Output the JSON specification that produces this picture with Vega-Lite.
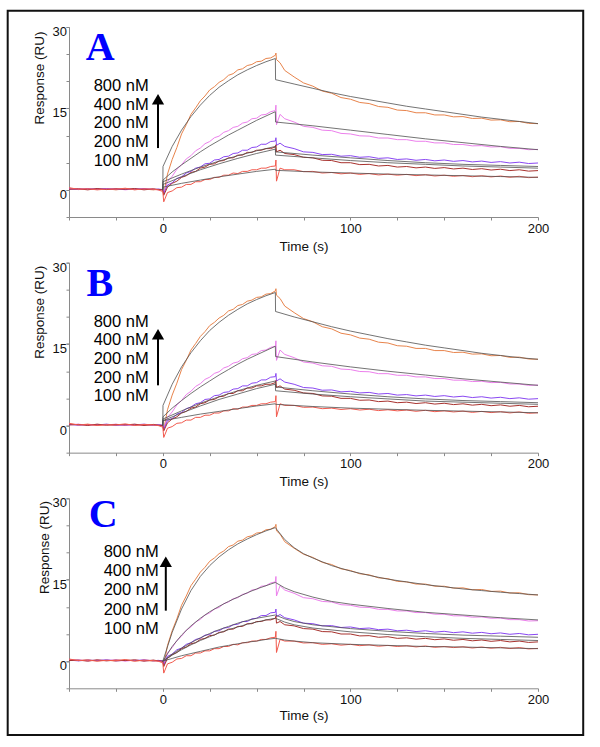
{
"$schema": "https://vega.github.io/schema/vega-lite/v6.json",
"padding": {"left": 6, "top": 9, "right": 5, "bottom": 5},
"bounds": "flush",
"spacing": 45.65,
"config": {
  "font": "Liberation Sans",
  "view": {"stroke": null},
  "axis": {"grid": false, "domainColor": "#8a8a8a", "tickColor": "#8a8a8a", "tickSize": 3, "labelFont": "Liberation Sans", "labelFontSize": 13, "labelColor": "#111", "titleFont": "Liberation Sans", "titleFontSize": 13.5, "titleFontWeight": "normal", "titleColor": "#111", "labelFlush": false, "labelOverlap": false},
  "axisX": {"labelPadding": 2, "titlePadding": 4},
  "axisY": {"labelPadding": -0.5, "labelOffset": 4.5, "titlePadding": 6}
},
"datasets": {
"traces": [
{"c":"800","t":-50,"v":0.3},{"c":"800","t":-45,"v":0.1},{"c":"800","t":-40,"v":0.25},{"c":"800","t":-35,"v":0.05},{"c":"800","t":-30,"v":0.2},{"c":"800","t":-25,"v":0.0},{"c":"800","t":-20,"v":0.2},{"c":"800","t":-15,"v":0.05},{"c":"800","t":-10,"v":0.15},{"c":"800","t":-5,"v":0.0},{"c":"800","t":-2.5,"v":0.1},{"c":"800","t":0,"v":0.0},{"c":"800","t":0.5,"v":-0.8},{"c":"800","t":2.5,"v":2.9},{"c":"800","t":5,"v":5.6},{"c":"800","t":7.5,"v":7.8},{"c":"800","t":10,"v":10.3},{"c":"800","t":12.5,"v":12.0},{"c":"800","t":15,"v":13.9},{"c":"800","t":17.5,"v":15.1},{"c":"800","t":20,"v":16.4},{"c":"800","t":22.5,"v":17.3},{"c":"800","t":25,"v":18.4},{"c":"800","t":27.5,"v":19.0},{"c":"800","t":30,"v":19.8},{"c":"800","t":32.5,"v":20.3},{"c":"800","t":35,"v":21.1},{"c":"800","t":37.5,"v":21.4},{"c":"800","t":40,"v":22.1},{"c":"800","t":42.5,"v":22.3},{"c":"800","t":45,"v":22.9},{"c":"800","t":47.5,"v":23.1},{"c":"800","t":50,"v":23.6},{"c":"800","t":52.5,"v":23.7},{"c":"800","t":55,"v":24.2},{"c":"800","t":57.5,"v":24.3},{"c":"800","t":60,"v":24.8},{"c":"800","t":60.3,"v":25.2},{"c":"800","t":60.6,"v":24.0},{"c":"800","t":62.5,"v":23.4},{"c":"800","t":65,"v":22.0},{"c":"800","t":70,"v":20.8},{"c":"800","t":75,"v":19.7},{"c":"800","t":80,"v":19.1},{"c":"800","t":85,"v":18.2},{"c":"800","t":90,"v":17.8},{"c":"800","t":95,"v":17.0},{"c":"800","t":100,"v":16.7},{"c":"800","t":105,"v":16.1},{"c":"800","t":110,"v":15.9},{"c":"800","t":115,"v":15.35},{"c":"800","t":120,"v":15.2},{"c":"800","t":125,"v":14.7},{"c":"800","t":130,"v":14.6},{"c":"800","t":135,"v":14.2},{"c":"800","t":140,"v":14.2},{"c":"800","t":145,"v":13.8},{"c":"800","t":150,"v":13.8},{"c":"800","t":155,"v":13.45},{"c":"800","t":160,"v":13.5},{"c":"800","t":165,"v":13.15},{"c":"800","t":170,"v":13.2},{"c":"800","t":175,"v":12.85},{"c":"800","t":180,"v":12.9},{"c":"800","t":185,"v":12.55},{"c":"800","t":190,"v":12.6},{"c":"800","t":195,"v":12.25},{"c":"800","t":200,"v":12.2},
{"c":"400","t":-50,"v":0.15},{"c":"400","t":-45,"v":0.25},{"c":"400","t":-40,"v":0.05},{"c":"400","t":-35,"v":0.2},{"c":"400","t":-30,"v":0.1},{"c":"400","t":-25,"v":0.25},{"c":"400","t":-20,"v":0.0},{"c":"400","t":-15,"v":0.2},{"c":"400","t":-10,"v":0.05},{"c":"400","t":-5,"v":0.15},{"c":"400","t":-2.5,"v":0.0},{"c":"400","t":0,"v":0.1},{"c":"400","t":0.5,"v":-0.6},{"c":"400","t":2.5,"v":1.5},{"c":"400","t":5,"v":2.5},{"c":"400","t":7.5,"v":3.8},{"c":"400","t":10,"v":4.6},{"c":"400","t":12.5,"v":5.7},{"c":"400","t":15,"v":6.3},{"c":"400","t":17.5,"v":7.2},{"c":"400","t":20,"v":7.7},{"c":"400","t":22.5,"v":8.5},{"c":"400","t":25,"v":8.9},{"c":"400","t":27.5,"v":9.6},{"c":"400","t":30,"v":9.9},{"c":"400","t":32.5,"v":10.6},{"c":"400","t":35,"v":10.9},{"c":"400","t":37.5,"v":11.5},{"c":"400","t":40,"v":11.7},{"c":"400","t":42.5,"v":12.3},{"c":"400","t":45,"v":12.5},{"c":"400","t":47.5,"v":13.1},{"c":"400","t":50,"v":13.2},{"c":"400","t":52.5,"v":13.8},{"c":"400","t":55,"v":13.9},{"c":"400","t":57.5,"v":14.4},{"c":"400","t":60,"v":14.6},{"c":"400","t":60.3,"v":15.6},{"c":"400","t":60.6,"v":12.0},{"c":"400","t":62.5,"v":13.9},{"c":"400","t":65,"v":13.1},{"c":"400","t":70,"v":12.5},{"c":"400","t":75,"v":11.7},{"c":"400","t":80,"v":11.5},{"c":"400","t":85,"v":11.0},{"c":"400","t":90,"v":10.9},{"c":"400","t":95,"v":10.4},{"c":"400","t":100,"v":10.3},{"c":"400","t":105,"v":9.95},{"c":"400","t":110,"v":9.9},{"c":"400","t":115,"v":9.55},{"c":"400","t":120,"v":9.55},{"c":"400","t":125,"v":9.25},{"c":"400","t":130,"v":9.25},{"c":"400","t":135,"v":8.95},{"c":"400","t":140,"v":8.95},{"c":"400","t":145,"v":8.65},{"c":"400","t":150,"v":8.65},{"c":"400","t":155,"v":8.35},{"c":"400","t":160,"v":8.35},{"c":"400","t":165,"v":8.1},{"c":"400","t":170,"v":8.15},{"c":"400","t":175,"v":7.9},{"c":"400","t":180,"v":7.95},{"c":"400","t":185,"v":7.65},{"c":"400","t":190,"v":7.65},{"c":"400","t":195,"v":7.4},{"c":"400","t":200,"v":7.45},
{"c":"200a","t":-50,"v":0.2},{"c":"200a","t":-45,"v":0.05},{"c":"200a","t":-40,"v":0.2},{"c":"200a","t":-35,"v":0.1},{"c":"200a","t":-30,"v":0.25},{"c":"200a","t":-25,"v":0.05},{"c":"200a","t":-20,"v":0.15},{"c":"200a","t":-15,"v":0.1},{"c":"200a","t":-10,"v":0.25},{"c":"200a","t":-5,"v":0.05},{"c":"200a","t":-2.5,"v":0.15},{"c":"200a","t":0,"v":0.05},{"c":"200a","t":0.5,"v":-0.7},{"c":"200a","t":2.5,"v":0.9},{"c":"200a","t":5,"v":1.3},{"c":"200a","t":7.5,"v":2.1},{"c":"200a","t":10,"v":2.4},{"c":"200a","t":12.5,"v":3.1},{"c":"200a","t":15,"v":3.4},{"c":"200a","t":17.5,"v":4.0},{"c":"200a","t":20,"v":4.2},{"c":"200a","t":22.5,"v":4.8},{"c":"200a","t":25,"v":4.9},{"c":"200a","t":27.5,"v":5.5},{"c":"200a","t":30,"v":5.6},{"c":"200a","t":32.5,"v":6.1},{"c":"200a","t":35,"v":6.2},{"c":"200a","t":37.5,"v":6.7},{"c":"200a","t":40,"v":6.8},{"c":"200a","t":42.5,"v":7.3},{"c":"200a","t":45,"v":7.3},{"c":"200a","t":47.5,"v":7.8},{"c":"200a","t":50,"v":7.9},{"c":"200a","t":52.5,"v":8.4},{"c":"200a","t":55,"v":8.4},{"c":"200a","t":57.5,"v":8.9},{"c":"200a","t":60,"v":9.0},{"c":"200a","t":60.3,"v":9.6},{"c":"200a","t":60.6,"v":8.2},{"c":"200a","t":62.5,"v":8.6},{"c":"200a","t":65,"v":8.0},{"c":"200a","t":70,"v":7.6},{"c":"200a","t":75,"v":7.0},{"c":"200a","t":80,"v":6.9},{"c":"200a","t":85,"v":6.5},{"c":"200a","t":90,"v":6.55},{"c":"200a","t":95,"v":6.2},{"c":"200a","t":100,"v":6.3},{"c":"200a","t":105,"v":6.0},{"c":"200a","t":110,"v":6.1},{"c":"200a","t":115,"v":5.8},{"c":"200a","t":120,"v":5.9},{"c":"200a","t":125,"v":5.6},{"c":"200a","t":130,"v":5.7},{"c":"200a","t":135,"v":5.45},{"c":"200a","t":140,"v":5.6},{"c":"200a","t":145,"v":5.35},{"c":"200a","t":150,"v":5.5},{"c":"200a","t":155,"v":5.25},{"c":"200a","t":160,"v":5.4},{"c":"200a","t":165,"v":5.15},{"c":"200a","t":170,"v":5.3},{"c":"200a","t":175,"v":5.05},{"c":"200a","t":180,"v":5.2},{"c":"200a","t":185,"v":4.95},{"c":"200a","t":190,"v":5.1},{"c":"200a","t":195,"v":4.85},{"c":"200a","t":200,"v":4.95},
{"c":"200b","t":-50,"v":0.1},{"c":"200b","t":-45,"v":0.2},{"c":"200b","t":-40,"v":0.0},{"c":"200b","t":-35,"v":0.25},{"c":"200b","t":-30,"v":0.05},{"c":"200b","t":-25,"v":0.2},{"c":"200b","t":-20,"v":0.1},{"c":"200b","t":-15,"v":0.25},{"c":"200b","t":-10,"v":0.0},{"c":"200b","t":-5,"v":0.2},{"c":"200b","t":-2.5,"v":0.05},{"c":"200b","t":0,"v":0.0},{"c":"200b","t":0.5,"v":-1.0},{"c":"200b","t":2.5,"v":0.5},{"c":"200b","t":5,"v":1.2},{"c":"200b","t":7.5,"v":1.6},{"c":"200b","t":10,"v":2.3},{"c":"200b","t":12.5,"v":2.6},{"c":"200b","t":15,"v":3.2},{"c":"200b","t":17.5,"v":3.4},{"c":"200b","t":20,"v":4.0},{"c":"200b","t":22.5,"v":4.2},{"c":"200b","t":25,"v":4.7},{"c":"200b","t":27.5,"v":4.8},{"c":"200b","t":30,"v":5.3},{"c":"200b","t":32.5,"v":5.4},{"c":"200b","t":35,"v":5.9},{"c":"200b","t":37.5,"v":5.9},{"c":"200b","t":40,"v":6.4},{"c":"200b","t":42.5,"v":6.4},{"c":"200b","t":45,"v":6.9},{"c":"200b","t":47.5,"v":6.9},{"c":"200b","t":50,"v":7.3},{"c":"200b","t":52.5,"v":7.3},{"c":"200b","t":55,"v":7.6},{"c":"200b","t":57.5,"v":7.6},{"c":"200b","t":60,"v":7.9},{"c":"200b","t":60.3,"v":8.3},{"c":"200b","t":60.6,"v":7.0},{"c":"200b","t":62.5,"v":7.3},{"c":"200b","t":65,"v":6.7},{"c":"200b","t":70,"v":6.5},{"c":"200b","t":75,"v":6.0},{"c":"200b","t":80,"v":5.9},{"c":"200b","t":85,"v":5.45},{"c":"200b","t":90,"v":5.4},{"c":"200b","t":95,"v":5.0},{"c":"200b","t":100,"v":5.0},{"c":"200b","t":105,"v":4.65},{"c":"200b","t":110,"v":4.7},{"c":"200b","t":115,"v":4.4},{"c":"200b","t":120,"v":4.5},{"c":"200b","t":125,"v":4.2},{"c":"200b","t":130,"v":4.3},{"c":"200b","t":135,"v":4.05},{"c":"200b","t":140,"v":4.2},{"c":"200b","t":145,"v":3.95},{"c":"200b","t":150,"v":4.1},{"c":"200b","t":155,"v":3.85},{"c":"200b","t":160,"v":4.0},{"c":"200b","t":165,"v":3.75},{"c":"200b","t":170,"v":3.9},{"c":"200b","t":175,"v":3.65},{"c":"200b","t":180,"v":3.8},{"c":"200b","t":185,"v":3.55},{"c":"200b","t":190,"v":3.7},{"c":"200b","t":195,"v":3.45},{"c":"200b","t":200,"v":3.55},
{"c":"100","t":-50,"v":0.4},{"c":"100","t":-45,"v":0.1},{"c":"100","t":-40,"v":0.2},{"c":"100","t":-35,"v":0.0},{"c":"100","t":-30,"v":0.15},{"c":"100","t":-25,"v":0.1},{"c":"100","t":-20,"v":0.3},{"c":"100","t":-15,"v":0.0},{"c":"100","t":-10,"v":0.2},{"c":"100","t":-5,"v":0.1},{"c":"100","t":-2.5,"v":0.0},{"c":"100","t":0,"v":-0.3},{"c":"100","t":0.5,"v":-2.2},{"c":"100","t":2.5,"v":-0.5},{"c":"100","t":5,"v":-0.2},{"c":"100","t":7.5,"v":0.4},{"c":"100","t":10,"v":0.5},{"c":"100","t":12.5,"v":1.0},{"c":"100","t":15,"v":1.0},{"c":"100","t":17.5,"v":1.5},{"c":"100","t":20,"v":1.5},{"c":"100","t":22.5,"v":1.9},{"c":"100","t":25,"v":1.9},{"c":"100","t":27.5,"v":2.3},{"c":"100","t":30,"v":2.3},{"c":"100","t":32.5,"v":2.7},{"c":"100","t":35,"v":2.7},{"c":"100","t":37.5,"v":3.1},{"c":"100","t":40,"v":3.0},{"c":"100","t":42.5,"v":3.4},{"c":"100","t":45,"v":3.4},{"c":"100","t":47.5,"v":3.7},{"c":"100","t":50,"v":3.7},{"c":"100","t":52.5,"v":4.0},{"c":"100","t":55,"v":4.0},{"c":"100","t":57.5,"v":4.3},{"c":"100","t":60,"v":4.4},{"c":"100","t":60.3,"v":5.5},{"c":"100","t":60.6,"v":1.6},{"c":"100","t":62.5,"v":4.0},{"c":"100","t":65,"v":3.7},{"c":"100","t":70,"v":3.7},{"c":"100","t":75,"v":3.35},{"c":"100","t":80,"v":3.4},{"c":"100","t":85,"v":3.1},{"c":"100","t":90,"v":3.2},{"c":"100","t":95,"v":2.95},{"c":"100","t":100,"v":3.1},{"c":"100","t":105,"v":2.85},{"c":"100","t":110,"v":3.0},{"c":"100","t":115,"v":2.75},{"c":"100","t":120,"v":2.9},{"c":"100","t":125,"v":2.7},{"c":"100","t":130,"v":2.85},{"c":"100","t":135,"v":2.62},{"c":"100","t":140,"v":2.8},{"c":"100","t":145,"v":2.55},{"c":"100","t":150,"v":2.7},{"c":"100","t":155,"v":2.5},{"c":"100","t":160,"v":2.65},{"c":"100","t":165,"v":2.42},{"c":"100","t":170,"v":2.6},{"c":"100","t":175,"v":2.38},{"c":"100","t":180,"v":2.55},{"c":"100","t":185,"v":2.32},{"c":"100","t":190,"v":2.5},{"c":"100","t":195,"v":2.25},{"c":"100","t":200,"v":2.35}
],
"fits": [
{"p":"A","c":"800","t":0,"v":0},{"p":"A","c":"800","t":0.1,"v":4.3},{"p":"A","c":"800","t":5,"v":8.0},{"p":"A","c":"800","t":10,"v":11.0},{"p":"A","c":"800","t":15,"v":13.5},{"p":"A","c":"800","t":20,"v":15.6},{"p":"A","c":"800","t":25,"v":17.4},{"p":"A","c":"800","t":30,"v":18.9},{"p":"A","c":"800","t":35,"v":20.1},{"p":"A","c":"800","t":40,"v":21.2},{"p":"A","c":"800","t":45,"v":22.1},{"p":"A","c":"800","t":50,"v":22.9},{"p":"A","c":"800","t":55,"v":23.6},{"p":"A","c":"800","t":60,"v":24.2},{"p":"A","c":"800","t":60.1,"v":20.3},{"p":"A","c":"800","t":70,"v":19.5},{"p":"A","c":"800","t":80,"v":18.7},{"p":"A","c":"800","t":90,"v":17.9},{"p":"A","c":"800","t":100,"v":17.2},{"p":"A","c":"800","t":110,"v":16.6},{"p":"A","c":"800","t":120,"v":16.0},{"p":"A","c":"800","t":130,"v":15.4},{"p":"A","c":"800","t":140,"v":14.9},{"p":"A","c":"800","t":150,"v":14.4},{"p":"A","c":"800","t":160,"v":13.9},{"p":"A","c":"800","t":170,"v":13.4},{"p":"A","c":"800","t":180,"v":13.0},{"p":"A","c":"800","t":190,"v":12.6},{"p":"A","c":"800","t":200,"v":12.2},
{"p":"A","c":"400","t":0,"v":0},{"p":"A","c":"400","t":0.1,"v":1.8},{"p":"A","c":"400","t":5,"v":3.3},{"p":"A","c":"400","t":10,"v":4.6},{"p":"A","c":"400","t":15,"v":5.8},{"p":"A","c":"400","t":20,"v":7.0},{"p":"A","c":"400","t":25,"v":8.1},{"p":"A","c":"400","t":30,"v":9.1},{"p":"A","c":"400","t":35,"v":10.1},{"p":"A","c":"400","t":40,"v":11.0},{"p":"A","c":"400","t":45,"v":11.9},{"p":"A","c":"400","t":50,"v":12.8},{"p":"A","c":"400","t":55,"v":13.6},{"p":"A","c":"400","t":60,"v":14.4},{"p":"A","c":"400","t":60.1,"v":12.5},{"p":"A","c":"400","t":80,"v":11.8},{"p":"A","c":"400","t":100,"v":11.0},{"p":"A","c":"400","t":120,"v":10.2},{"p":"A","c":"400","t":140,"v":9.4},{"p":"A","c":"400","t":160,"v":8.7},{"p":"A","c":"400","t":180,"v":8.0},{"p":"A","c":"400","t":200,"v":7.4},
{"p":"A","c":"200a","t":0,"v":0},{"p":"A","c":"200a","t":0.1,"v":1.5},{"p":"A","c":"200a","t":10,"v":2.9},{"p":"A","c":"200a","t":20,"v":4.2},{"p":"A","c":"200a","t":30,"v":5.3},{"p":"A","c":"200a","t":40,"v":6.3},{"p":"A","c":"200a","t":50,"v":7.2},{"p":"A","c":"200a","t":60,"v":8.0},{"p":"A","c":"200a","t":60.1,"v":7.0},{"p":"A","c":"200a","t":80,"v":6.4},{"p":"A","c":"200a","t":100,"v":5.9},{"p":"A","c":"200a","t":120,"v":5.4},{"p":"A","c":"200a","t":140,"v":5.0},{"p":"A","c":"200a","t":160,"v":4.7},{"p":"A","c":"200a","t":180,"v":4.5},{"p":"A","c":"200a","t":200,"v":4.3},
{"p":"A","c":"200b","t":0,"v":0},{"p":"A","c":"200b","t":0.1,"v":1.0},{"p":"A","c":"200b","t":10,"v":2.4},{"p":"A","c":"200b","t":20,"v":3.7},{"p":"A","c":"200b","t":30,"v":4.8},{"p":"A","c":"200b","t":40,"v":5.8},{"p":"A","c":"200b","t":50,"v":6.7},{"p":"A","c":"200b","t":60,"v":7.5},{"p":"A","c":"200b","t":60.1,"v":6.4},{"p":"A","c":"200b","t":80,"v":5.9},{"p":"A","c":"200b","t":100,"v":5.4},{"p":"A","c":"200b","t":120,"v":5.0},{"p":"A","c":"200b","t":140,"v":4.7},{"p":"A","c":"200b","t":160,"v":4.4},{"p":"A","c":"200b","t":180,"v":4.2},{"p":"A","c":"200b","t":200,"v":4.0},
{"p":"A","c":"100","t":0,"v":0},{"p":"A","c":"100","t":0.1,"v":0.5},{"p":"A","c":"100","t":10,"v":1.2},{"p":"A","c":"100","t":20,"v":1.8},{"p":"A","c":"100","t":30,"v":2.4},{"p":"A","c":"100","t":40,"v":2.9},{"p":"A","c":"100","t":50,"v":3.4},{"p":"A","c":"100","t":60,"v":3.8},{"p":"A","c":"100","t":60.1,"v":3.6},{"p":"A","c":"100","t":80,"v":3.3},{"p":"A","c":"100","t":100,"v":3.1},{"p":"A","c":"100","t":120,"v":2.9},{"p":"A","c":"100","t":140,"v":2.75},{"p":"A","c":"100","t":160,"v":2.6},{"p":"A","c":"100","t":180,"v":2.45},{"p":"A","c":"100","t":200,"v":2.3},
{"p":"B","c":"800","t":0,"v":0},{"p":"B","c":"800","t":0.1,"v":3.7},{"p":"B","c":"800","t":5,"v":7.6},{"p":"B","c":"800","t":10,"v":10.8},{"p":"B","c":"800","t":15,"v":13.4},{"p":"B","c":"800","t":20,"v":15.6},{"p":"B","c":"800","t":25,"v":17.5},{"p":"B","c":"800","t":30,"v":19.0},{"p":"B","c":"800","t":35,"v":20.3},{"p":"B","c":"800","t":40,"v":21.4},{"p":"B","c":"800","t":45,"v":22.4},{"p":"B","c":"800","t":50,"v":23.2},{"p":"B","c":"800","t":55,"v":23.9},{"p":"B","c":"800","t":60,"v":24.5},{"p":"B","c":"800","t":60.1,"v":21.0},{"p":"B","c":"800","t":70,"v":20.0},{"p":"B","c":"800","t":80,"v":19.1},{"p":"B","c":"800","t":90,"v":18.2},{"p":"B","c":"800","t":100,"v":17.4},{"p":"B","c":"800","t":110,"v":16.7},{"p":"B","c":"800","t":120,"v":16.0},{"p":"B","c":"800","t":130,"v":15.4},{"p":"B","c":"800","t":140,"v":14.8},{"p":"B","c":"800","t":150,"v":14.3},{"p":"B","c":"800","t":160,"v":13.8},{"p":"B","c":"800","t":170,"v":13.3},{"p":"B","c":"800","t":180,"v":12.9},{"p":"B","c":"800","t":190,"v":12.5},{"p":"B","c":"800","t":200,"v":12.2},
{"p":"B","c":"400","t":0,"v":0},{"p":"B","c":"400","t":0.1,"v":1.6},{"p":"B","c":"400","t":5,"v":3.2},{"p":"B","c":"400","t":10,"v":4.6},{"p":"B","c":"400","t":15,"v":5.9},{"p":"B","c":"400","t":20,"v":7.1},{"p":"B","c":"400","t":25,"v":8.2},{"p":"B","c":"400","t":30,"v":9.3},{"p":"B","c":"400","t":35,"v":10.3},{"p":"B","c":"400","t":40,"v":11.3},{"p":"B","c":"400","t":45,"v":12.2},{"p":"B","c":"400","t":50,"v":13.0},{"p":"B","c":"400","t":55,"v":13.8},{"p":"B","c":"400","t":60,"v":14.6},{"p":"B","c":"400","t":60.1,"v":12.7},{"p":"B","c":"400","t":80,"v":11.7},{"p":"B","c":"400","t":100,"v":10.8},{"p":"B","c":"400","t":120,"v":10.0},{"p":"B","c":"400","t":140,"v":9.3},{"p":"B","c":"400","t":160,"v":8.6},{"p":"B","c":"400","t":180,"v":8.0},{"p":"B","c":"400","t":200,"v":7.4},
{"p":"B","c":"200a","t":0,"v":0},{"p":"B","c":"200a","t":0.1,"v":1.2},{"p":"B","c":"200a","t":10,"v":2.7},{"p":"B","c":"200a","t":20,"v":4.1},{"p":"B","c":"200a","t":30,"v":5.3},{"p":"B","c":"200a","t":40,"v":6.4},{"p":"B","c":"200a","t":50,"v":7.4},{"p":"B","c":"200a","t":60,"v":8.2},{"p":"B","c":"200a","t":60.1,"v":7.1},{"p":"B","c":"200a","t":80,"v":6.4},{"p":"B","c":"200a","t":100,"v":5.8},{"p":"B","c":"200a","t":120,"v":5.3},{"p":"B","c":"200a","t":140,"v":4.9},{"p":"B","c":"200a","t":160,"v":4.6},{"p":"B","c":"200a","t":180,"v":4.4},{"p":"B","c":"200a","t":200,"v":4.2},
{"p":"B","c":"200b","t":0,"v":0},{"p":"B","c":"200b","t":0.1,"v":0.9},{"p":"B","c":"200b","t":10,"v":2.3},{"p":"B","c":"200b","t":20,"v":3.6},{"p":"B","c":"200b","t":30,"v":4.8},{"p":"B","c":"200b","t":40,"v":5.8},{"p":"B","c":"200b","t":50,"v":6.8},{"p":"B","c":"200b","t":60,"v":7.6},{"p":"B","c":"200b","t":60.1,"v":6.4},{"p":"B","c":"200b","t":80,"v":5.8},{"p":"B","c":"200b","t":100,"v":5.3},{"p":"B","c":"200b","t":120,"v":4.9},{"p":"B","c":"200b","t":140,"v":4.5},{"p":"B","c":"200b","t":160,"v":4.3},{"p":"B","c":"200b","t":180,"v":4.1},{"p":"B","c":"200b","t":200,"v":3.9},
{"p":"B","c":"100","t":0,"v":0},{"p":"B","c":"100","t":0.1,"v":0.9},{"p":"B","c":"100","t":10,"v":1.5},{"p":"B","c":"100","t":20,"v":2.1},{"p":"B","c":"100","t":30,"v":2.6},{"p":"B","c":"100","t":40,"v":3.1},{"p":"B","c":"100","t":50,"v":3.6},{"p":"B","c":"100","t":60,"v":4.0},{"p":"B","c":"100","t":60.1,"v":3.9},{"p":"B","c":"100","t":80,"v":3.5},{"p":"B","c":"100","t":100,"v":3.2},{"p":"B","c":"100","t":120,"v":3.0},{"p":"B","c":"100","t":140,"v":2.8},{"p":"B","c":"100","t":160,"v":2.65},{"p":"B","c":"100","t":180,"v":2.5},{"p":"B","c":"100","t":200,"v":2.35},
{"p":"C","c":"800","t":0,"v":0},{"p":"C","c":"800","t":5,"v":5.3},{"p":"C","c":"800","t":10,"v":9.6},{"p":"C","c":"800","t":15,"v":13.0},{"p":"C","c":"800","t":20,"v":15.6},{"p":"C","c":"800","t":25,"v":17.6},{"p":"C","c":"800","t":30,"v":19.2},{"p":"C","c":"800","t":35,"v":20.5},{"p":"C","c":"800","t":40,"v":21.6},{"p":"C","c":"800","t":45,"v":22.5},{"p":"C","c":"800","t":50,"v":23.3},{"p":"C","c":"800","t":55,"v":24.0},{"p":"C","c":"800","t":60,"v":24.6},{"p":"C","c":"800","t":65,"v":22.4},{"p":"C","c":"800","t":70,"v":20.9},{"p":"C","c":"800","t":75,"v":19.8},{"p":"C","c":"800","t":80,"v":19.0},{"p":"C","c":"800","t":90,"v":17.6},{"p":"C","c":"800","t":100,"v":16.6},{"p":"C","c":"800","t":110,"v":15.8},{"p":"C","c":"800","t":120,"v":15.1},{"p":"C","c":"800","t":130,"v":14.6},{"p":"C","c":"800","t":140,"v":14.1},{"p":"C","c":"800","t":150,"v":13.7},{"p":"C","c":"800","t":160,"v":13.3},{"p":"C","c":"800","t":170,"v":13.0},{"p":"C","c":"800","t":180,"v":12.7},{"p":"C","c":"800","t":190,"v":12.45},{"p":"C","c":"800","t":200,"v":12.2},
{"p":"C","c":"400","t":0,"v":0},{"p":"C","c":"400","t":5,"v":2.7},{"p":"C","c":"400","t":10,"v":4.8},{"p":"C","c":"400","t":15,"v":6.5},{"p":"C","c":"400","t":20,"v":7.9},{"p":"C","c":"400","t":25,"v":9.1},{"p":"C","c":"400","t":30,"v":10.1},{"p":"C","c":"400","t":35,"v":11.0},{"p":"C","c":"400","t":40,"v":11.8},{"p":"C","c":"400","t":45,"v":12.6},{"p":"C","c":"400","t":50,"v":13.3},{"p":"C","c":"400","t":55,"v":13.9},{"p":"C","c":"400","t":60,"v":14.5},{"p":"C","c":"400","t":65,"v":13.5},{"p":"C","c":"400","t":70,"v":12.8},{"p":"C","c":"400","t":80,"v":11.8},{"p":"C","c":"400","t":90,"v":11.0},{"p":"C","c":"400","t":100,"v":10.5},{"p":"C","c":"400","t":120,"v":9.7},{"p":"C","c":"400","t":140,"v":9.0},{"p":"C","c":"400","t":160,"v":8.5},{"p":"C","c":"400","t":180,"v":8.0},{"p":"C","c":"400","t":200,"v":7.6},
{"p":"C","c":"200a","t":0,"v":0},{"p":"C","c":"200a","t":5,"v":1.3},{"p":"C","c":"200a","t":10,"v":2.4},{"p":"C","c":"200a","t":15,"v":3.4},{"p":"C","c":"200a","t":20,"v":4.3},{"p":"C","c":"200a","t":25,"v":5.1},{"p":"C","c":"200a","t":30,"v":5.8},{"p":"C","c":"200a","t":35,"v":6.4},{"p":"C","c":"200a","t":40,"v":7.0},{"p":"C","c":"200a","t":45,"v":7.5},{"p":"C","c":"200a","t":50,"v":7.9},{"p":"C","c":"200a","t":55,"v":8.2},{"p":"C","c":"200a","t":60,"v":8.5},{"p":"C","c":"200a","t":65,"v":7.8},{"p":"C","c":"200a","t":70,"v":7.3},{"p":"C","c":"200a","t":80,"v":6.7},{"p":"C","c":"200a","t":100,"v":6.0},{"p":"C","c":"200a","t":120,"v":5.5},{"p":"C","c":"200a","t":140,"v":5.1},{"p":"C","c":"200a","t":160,"v":4.8},{"p":"C","c":"200a","t":180,"v":4.6},{"p":"C","c":"200a","t":200,"v":4.4},
{"p":"C","c":"200b","t":0,"v":0},{"p":"C","c":"200b","t":5,"v":1.1},{"p":"C","c":"200b","t":10,"v":2.1},{"p":"C","c":"200b","t":15,"v":3.0},{"p":"C","c":"200b","t":20,"v":3.8},{"p":"C","c":"200b","t":25,"v":4.5},{"p":"C","c":"200b","t":30,"v":5.2},{"p":"C","c":"200b","t":35,"v":5.8},{"p":"C","c":"200b","t":40,"v":6.3},{"p":"C","c":"200b","t":45,"v":6.8},{"p":"C","c":"200b","t":50,"v":7.2},{"p":"C","c":"200b","t":55,"v":7.6},{"p":"C","c":"200b","t":60,"v":7.9},{"p":"C","c":"200b","t":65,"v":7.2},{"p":"C","c":"200b","t":70,"v":6.7},{"p":"C","c":"200b","t":80,"v":6.1},{"p":"C","c":"200b","t":100,"v":5.4},{"p":"C","c":"200b","t":120,"v":4.9},{"p":"C","c":"200b","t":140,"v":4.5},{"p":"C","c":"200b","t":160,"v":4.2},{"p":"C","c":"200b","t":180,"v":4.0},{"p":"C","c":"200b","t":200,"v":3.8},
{"p":"C","c":"100","t":0,"v":0},{"p":"C","c":"100","t":5,"v":0.5},{"p":"C","c":"100","t":10,"v":1.0},{"p":"C","c":"100","t":15,"v":1.4},{"p":"C","c":"100","t":20,"v":1.8},{"p":"C","c":"100","t":25,"v":2.2},{"p":"C","c":"100","t":30,"v":2.6},{"p":"C","c":"100","t":35,"v":2.9},{"p":"C","c":"100","t":40,"v":3.2},{"p":"C","c":"100","t":45,"v":3.5},{"p":"C","c":"100","t":50,"v":3.7},{"p":"C","c":"100","t":55,"v":4.0},{"p":"C","c":"100","t":60,"v":4.2},{"p":"C","c":"100","t":65,"v":3.9},{"p":"C","c":"100","t":70,"v":3.7},{"p":"C","c":"100","t":80,"v":3.4},{"p":"C","c":"100","t":100,"v":3.1},{"p":"C","c":"100","t":120,"v":2.9},{"p":"C","c":"100","t":140,"v":2.7},{"p":"C","c":"100","t":160,"v":2.6},{"p":"C","c":"100","t":180,"v":2.45},{"p":"C","c":"100","t":200,"v":2.3}
],
"labels": [
{"p":"A","label":"800 nM","t":-7.5,"v":19.15},{"p":"A","label":"400 nM","t":-7.5,"v":15.7},{"p":"A","label":"200 nM","t":-7.5,"v":12.25},{"p":"A","label":"200 nM","t":-7.5,"v":8.8},{"p":"A","label":"100 nM","t":-7.5,"v":5.35},
{"p":"B","label":"800 nM","t":-7.5,"v":19.15},{"p":"B","label":"400 nM","t":-7.5,"v":15.7},{"p":"B","label":"200 nM","t":-7.5,"v":12.25},{"p":"B","label":"200 nM","t":-7.5,"v":8.8},{"p":"B","label":"100 nM","t":-7.5,"v":5.35},
{"p":"C","label":"800 nM","t":-2.2,"v":20.1},{"p":"C","label":"400 nM","t":-2.2,"v":16.6},{"p":"C","label":"200 nM","t":-2.2,"v":13.1},{"p":"C","label":"200 nM","t":-2.2,"v":9.5},{"p":"C","label":"100 nM","t":-2.2,"v":6.0}
],
"arrows": [
{"p":"A","t":-2.55,"lo":7.7,"hi":16.0,"tip":16.7},
{"p":"B","t":-2.55,"lo":7.4,"hi":16.1,"tip":16.8},
{"p":"C","t":1.6,"lo":9.3,"hi":17.6,"tip":18.3}
],
"letters": [
{"p":"A","letter":"A","t":-33.4,"v":23.9},
{"p":"B","letter":"B","t":-33.6,"v":23.8},
{"p":"C","letter":"C","t":-31.8,"v":24.8}
]
},
"vconcat": [
{
"width": 469, "height": 190,
"resolve": {"scale": {"y": "independent"}, "axis": {"y": "independent"}},
"layer": [
{"data": {"name": "traces"}, "mark": {"type": "line", "strokeWidth": 1},
 "encoding": {
  "x": {"field": "t", "type": "quantitative", "scale": {"domain": [-50, 200], "nice": false, "zero": false}, "axis": {"title": "Time (s)", "values": [-50,-25,0,25,50,75,100,125,150,175,200], "labelExpr": "datum.value % 100 === 0 ? datum.label : ' '", "labelOverlap": false}},
  "y": {"field": "v", "type": "quantitative", "scale": {"domain": [-5, 30], "nice": false, "zero": false}, "axis": {"orient": "left", "title": "Response (RU)", "values": [0, 15, 30], "titleY": 50.5}},
  "color": {"field": "c", "type": "nominal", "scale": {"domain": ["800","400","200a","200b","100"], "range": ["#e8844c","#ec80ec","#8a48f2","#a8322e","#f25a4e"]}, "legend": null}
 }},
{"data": {"name": "fits"}, "transform": [{"filter": "datum.p === 'A'"}], "mark": {"type": "line", "color": "#505050", "strokeWidth": 0.8},
 "encoding": {"x": {"field": "t", "type": "quantitative"}, "y": {"field": "v", "type": "quantitative", "scale": {"domain": [-5, 30], "nice": false, "zero": false}, "axis": {"orient": "left", "values": [-5,0,5,10,15,20,25,30], "labels": false, "domain": false, "title": null}}, "detail": {"field": "c"}}},
{"data": {"name": "labels"}, "transform": [{"filter": "datum.p === 'A'"}], "mark": {"type": "text", "align": "right", "baseline": "middle", "fontSize": 16.5, "color": "#000"},
 "encoding": {"x": {"field": "t", "type": "quantitative"}, "y": {"field": "v", "type": "quantitative", "scale": {"domain": [-5, 30], "nice": false, "zero": false}, "axis": null}, "text": {"field": "label"}}},
{"data": {"name": "arrows"}, "transform": [{"filter": "datum.p === 'A'"}], "mark": {"type": "rule", "strokeWidth": 2, "color": "#000"},
 "encoding": {"x": {"field": "t", "type": "quantitative"}, "y": {"field": "lo", "type": "quantitative", "scale": {"domain": [-5, 30], "nice": false, "zero": false}, "axis": null}, "y2": {"field": "hi"}}},
{"data": {"name": "arrows"}, "transform": [{"filter": "datum.p === 'A'"}], "mark": {"type": "point", "shape": "triangle-up", "filled": true, "size": 150, "color": "#000", "opacity": 1},
 "encoding": {"x": {"field": "t", "type": "quantitative"}, "y": {"field": "tip", "type": "quantitative", "scale": {"domain": [-5, 30], "nice": false, "zero": false}, "axis": null}}},
{"data": {"name": "letters"}, "transform": [{"filter": "datum.p === 'A'"}], "mark": {"type": "text", "font": "Liberation Serif", "fontWeight": "bold", "fontSize": 40, "color": "#0000ff", "baseline": "alphabetic", "align": "center"},
 "encoding": {"x": {"field": "t", "type": "quantitative"}, "y": {"field": "v", "type": "quantitative", "scale": {"domain": [-5, 30], "nice": false, "zero": false}, "axis": null}, "text": {"field": "letter"}}},
{"data": {"values": [{}]}, "mark": {"type": "rect", "filled": false, "stroke": "#111", "strokeWidth": 2},
 "encoding": {"x": {"datum": -82.68, "type": "quantitative"}, "x2": {"datum": 224.1}, "y": {"datum": 33.0, "type": "quantitative", "scale": {"domain": [-5, 30], "nice": false, "zero": false}, "axis": null}, "y2": {"datum": -100.4}}}
]
},
{
"width": 469, "height": 190,
"resolve": {"scale": {"y": "independent"}, "axis": {"y": "independent"}},
"layer": [
{"data": {"name": "traces"}, "mark": {"type": "line", "strokeWidth": 1},
 "encoding": {
  "x": {"field": "t", "type": "quantitative", "scale": {"domain": [-50, 200], "nice": false, "zero": false}, "axis": {"title": "Time (s)", "values": [-50,-25,0,25,50,75,100,125,150,175,200], "labelExpr": "datum.value % 100 === 0 ? datum.label : ' '", "labelOverlap": false}},
  "y": {"field": "v", "type": "quantitative", "scale": {"domain": [-5, 30], "nice": false, "zero": false}, "axis": {"orient": "left", "title": "Response (RU)", "values": [0, 15, 30], "titleY": 49}},
  "color": {"field": "c", "type": "nominal", "scale": {"domain": ["800","400","200a","200b","100"], "range": ["#e8844c","#ec80ec","#8a48f2","#a8322e","#f25a4e"]}, "legend": null}
 }},
{"data": {"name": "fits"}, "transform": [{"filter": "datum.p === 'B'"}], "mark": {"type": "line", "color": "#505050", "strokeWidth": 0.8},
 "encoding": {"x": {"field": "t", "type": "quantitative"}, "y": {"field": "v", "type": "quantitative", "scale": {"domain": [-5, 30], "nice": false, "zero": false}, "axis": {"orient": "left", "values": [-5,0,5,10,15,20,25,30], "labels": false, "domain": false, "title": null}}, "detail": {"field": "c"}}},
{"data": {"name": "labels"}, "transform": [{"filter": "datum.p === 'B'"}], "mark": {"type": "text", "align": "right", "baseline": "middle", "fontSize": 16.5, "color": "#000"},
 "encoding": {"x": {"field": "t", "type": "quantitative"}, "y": {"field": "v", "type": "quantitative", "scale": {"domain": [-5, 30], "nice": false, "zero": false}, "axis": null}, "text": {"field": "label"}}},
{"data": {"name": "arrows"}, "transform": [{"filter": "datum.p === 'B'"}], "mark": {"type": "rule", "strokeWidth": 2, "color": "#000"},
 "encoding": {"x": {"field": "t", "type": "quantitative"}, "y": {"field": "lo", "type": "quantitative", "scale": {"domain": [-5, 30], "nice": false, "zero": false}, "axis": null}, "y2": {"field": "hi"}}},
{"data": {"name": "arrows"}, "transform": [{"filter": "datum.p === 'B'"}], "mark": {"type": "point", "shape": "triangle-up", "filled": true, "size": 150, "color": "#000", "opacity": 1},
 "encoding": {"x": {"field": "t", "type": "quantitative"}, "y": {"field": "tip", "type": "quantitative", "scale": {"domain": [-5, 30], "nice": false, "zero": false}, "axis": null}}},
{"data": {"name": "letters"}, "transform": [{"filter": "datum.p === 'B'"}], "mark": {"type": "text", "font": "Liberation Serif", "fontWeight": "bold", "fontSize": 40, "color": "#0000ff", "baseline": "alphabetic", "align": "center"},
 "encoding": {"x": {"field": "t", "type": "quantitative"}, "y": {"field": "v", "type": "quantitative", "scale": {"domain": [-5, 30], "nice": false, "zero": false}, "axis": null}, "text": {"field": "letter"}}}
]
},
{
"width": 469, "height": 190,
"resolve": {"scale": {"y": "independent"}, "axis": {"y": "independent"}},
"layer": [
{"data": {"name": "traces"}, "mark": {"type": "line", "strokeWidth": 1},
 "encoding": {
  "x": {"field": "t", "type": "quantitative", "scale": {"domain": [-50, 200], "nice": false, "zero": false}, "axis": {"title": "Time (s)", "values": [-50,-25,0,25,50,75,100,125,150,175,200], "labelExpr": "datum.value % 100 === 0 ? datum.label : ' '", "labelOverlap": false, "titlePadding": 2}},
  "y": {"field": "v", "type": "quantitative", "scale": {"domain": [-5, 30], "nice": false, "zero": false}, "axis": {"orient": "left", "title": "Response (RU)", "values": [0, 15, 30], "titleY": 48.6, "titlePadding": 1}},
  "color": {"field": "c", "type": "nominal", "scale": {"domain": ["800","400","200a","200b","100"], "range": ["#e8844c","#ec80ec","#8a48f2","#a8322e","#f25a4e"]}, "legend": null}
 }},
{"data": {"name": "fits"}, "transform": [{"filter": "datum.p === 'C'"}], "mark": {"type": "line", "color": "#505050", "strokeWidth": 0.8},
 "encoding": {"x": {"field": "t", "type": "quantitative"}, "y": {"field": "v", "type": "quantitative", "scale": {"domain": [-5, 30], "nice": false, "zero": false}, "axis": {"orient": "left", "values": [-5,0,5,10,15,20,25,30], "labels": false, "domain": false, "title": null}}, "detail": {"field": "c"}}},
{"data": {"name": "labels"}, "transform": [{"filter": "datum.p === 'C'"}], "mark": {"type": "text", "align": "right", "baseline": "middle", "fontSize": 16.5, "color": "#000"},
 "encoding": {"x": {"field": "t", "type": "quantitative"}, "y": {"field": "v", "type": "quantitative", "scale": {"domain": [-5, 30], "nice": false, "zero": false}, "axis": null}, "text": {"field": "label"}}},
{"data": {"name": "arrows"}, "transform": [{"filter": "datum.p === 'C'"}], "mark": {"type": "rule", "strokeWidth": 2, "color": "#000"},
 "encoding": {"x": {"field": "t", "type": "quantitative"}, "y": {"field": "lo", "type": "quantitative", "scale": {"domain": [-5, 30], "nice": false, "zero": false}, "axis": null}, "y2": {"field": "hi"}}},
{"data": {"name": "arrows"}, "transform": [{"filter": "datum.p === 'C'"}], "mark": {"type": "point", "shape": "triangle-up", "filled": true, "size": 150, "color": "#000", "opacity": 1},
 "encoding": {"x": {"field": "t", "type": "quantitative"}, "y": {"field": "tip", "type": "quantitative", "scale": {"domain": [-5, 30], "nice": false, "zero": false}, "axis": null}}},
{"data": {"name": "letters"}, "transform": [{"filter": "datum.p === 'C'"}], "mark": {"type": "text", "font": "Liberation Serif", "fontWeight": "bold", "fontSize": 40, "color": "#0000ff", "baseline": "alphabetic", "align": "center"},
 "encoding": {"x": {"field": "t", "type": "quantitative"}, "y": {"field": "v", "type": "quantitative", "scale": {"domain": [-5, 30], "nice": false, "zero": false}, "axis": null}, "text": {"field": "letter"}}}
]
}
]
}
